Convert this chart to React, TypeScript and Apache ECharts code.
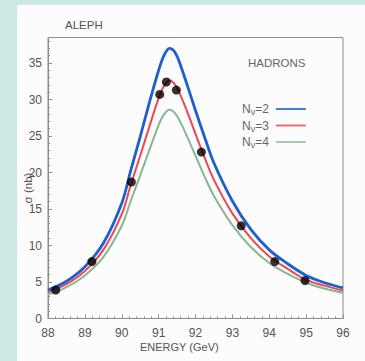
import React, { useEffect, useRef } from "react";
import * as echarts from "echarts";

const energy = [88, 88.5, 89, 89.5, 90, 90.25, 90.5, 90.75, 91, 91.15, 91.3, 91.45, 91.6, 91.8, 92, 92.25, 92.5, 93, 93.5, 94, 94.5, 95, 95.5, 96];
// Cross sections (nb) for N_nu = 2, 3, 4
const sigmaN2 = [3.9, 5.1, 7.1, 10.3, 15.8, 20.4, 24.9, 29.6, 34.0, 36.1, 37.0, 36.4, 34.6, 31.6, 28.5, 24.8, 21.3, 16.1, 12.2, 9.4, 7.5, 5.9, 4.9, 4.2];
const sigmaN3 = [3.6, 4.7, 6.5, 9.4, 14.3, 18.4, 22.3, 26.3, 30.2, 31.9, 32.6, 32.0, 30.5, 28.0, 25.3, 22.0, 19.0, 14.4, 11.0, 8.5, 6.8, 5.3, 4.5, 3.8];
const sigmaN4 = [3.3, 4.3, 5.9, 8.4, 12.7, 16.2, 19.6, 23.1, 26.5, 28.0, 28.6, 28.1, 26.8, 24.6, 22.3, 19.4, 16.8, 12.8, 9.8, 7.6, 6.1, 4.9, 4.1, 3.5];

// Measured points
const dataEnergy = [88.21, 89.19, 90.26, 91.03, 91.21, 91.48, 92.16, 93.24, 94.15, 94.97];
const dataSigma = [3.9, 7.8, 18.7, 30.7, 32.4, 31.3, 22.8, 12.7, 7.8, 5.2];

const seriesNames = ["N2", "N3", "N4"];
const seriesLabels = ["2", "3", "4"];

const FONT = "'Liberation Sans', Arial, Helvetica, sans-serif";

export default function App() {
  const ref = useRef<HTMLDivElement>(null);
  useEffect(() => {
    if (!ref.current) return;
    const chart = echarts.init(ref.current, null, { renderer: "svg" });
    const pair = (ys: number[]) => energy.map((x, i) => [x, ys[i]]);
    chart.setOption({
      animation: false,
      textStyle: { fontFamily: FONT },
      grid: {
        left: 48,
        right: 22,
        top: 37.5,
        bottom: 42.5,
        show: true,
        borderColor: "#8c8c8c",
        borderWidth: 1,
        backgroundColor: "transparent",
      },
      legend: {
        orient: "vertical",
        left: 237,
        top: 98,
        align: "right",
        icon: "rect",
        itemWidth: 30,
        itemHeight: 2,
        itemGap: 3,
        data: seriesNames,
        formatter: (name: string) => "N{s|ν}=" + seriesLabels[seriesNames.indexOf(name)],
        textStyle: {
          fontFamily: FONT,
          fontSize: 12,
          color: "#666",
          padding: [0, 2, 0, 0],
          rich: {
            s: { fontSize: 9, color: "#666", padding: [6, 0, 0, 0], fontFamily: FONT },
          },
        },
      },
      xAxis: {
        type: "value",
        min: 88,
        max: 96,
        interval: 1,
        axisLine: { onZero: false, lineStyle: { color: "#8c8c8c", width: 1 } },
        axisTick: { inside: true, length: 4, lineStyle: { color: "#8c8c8c" } },
        minorTick: { show: true, splitNumber: 5, length: 2, lineStyle: { color: "#8c8c8c" } },
        splitLine: { show: false },
        axisLabel: { color: "#555", fontSize: 12, margin: 8, fontFamily: FONT },
      },
      yAxis: {
        type: "value",
        min: 0,
        max: 38.5,
        interval: 5,
        axisLine: { show: true, lineStyle: { color: "#8c8c8c", width: 1 } },
        axisTick: { show: true, inside: true, length: 4, lineStyle: { color: "#8c8c8c" } },
        minorTick: { show: true, splitNumber: 5, length: 2, lineStyle: { color: "#8c8c8c" } },
        splitLine: { show: false },
        axisLabel: {
          color: "#555",
          fontSize: 12,
          margin: 6,
          fontFamily: FONT,
          formatter: (v: number) => (Math.abs(v % 5) < 1e-6 ? String(v) : ""),
        },
      },
      graphic: [
        {
          type: "text",
          left: 65,
          top: 19,
          style: { text: "ALEPH", fill: "#555", fontSize: 11.5, fontFamily: FONT },
        },
        {
          type: "text",
          left: 248,
          top: 57,
          style: { text: "HADRONS", fill: "#666", fontSize: 11.5, fontFamily: FONT },
        },
        {
          type: "text",
          left: 140,
          top: 341,
          style: { text: "ENERGY (GeV)", fill: "#555", fontSize: 11, fontFamily: FONT },
        },
        {
          type: "text",
          x: 28,
          y: 188,
          rotation: Math.PI / 2,
          style: {
            text: "σ (nb)",
            fill: "#555",
            fontSize: 11.5,
            fontFamily: FONT,
            align: "center",
            verticalAlign: "middle",
          },
        },
      ],
      series: [
        {
          name: "N4",
          type: "line",
          data: pair(sigmaN4),
          smooth: 0.35,
          showSymbol: false,
          lineStyle: { color: "#86b890", width: 2 },
          itemStyle: { color: "#a9c9ae" },
          z: 2,
        },
        {
          name: "N3",
          type: "line",
          data: pair(sigmaN3),
          smooth: 0.35,
          showSymbol: false,
          lineStyle: { color: "#ee4650", width: 2 },
          itemStyle: { color: "#ee6a78" },
          z: 3,
        },
        {
          name: "N2",
          type: "line",
          data: pair(sigmaN2),
          smooth: 0.35,
          showSymbol: false,
          lineStyle: { color: "#1c5fd0", width: 2.8 },
          itemStyle: { color: "#3f7fd8" },
          z: 4,
        },
        {
          name: "ALEPH data",
          type: "scatter",
          data: dataEnergy.map((x, i) => [x, dataSigma[i]]),
          symbolSize: 9,
          itemStyle: { color: "#000" },
          z: 5,
        },
      ],
    });
    return () => chart.dispose();
  }, []);

  return (
    <div style={{ position: "fixed", left: 0, top: 0, width: 365, height: 361, background: "#cbe9e2" }}>
      <div style={{ position: "absolute", left: 17, top: 5, right: 0, bottom: 0, background: "#fcfcfc" }} />
      <div ref={ref} style={{ position: "absolute", left: 0, top: 0, width: 365, height: 361 }} />
    </div>
  );
}
